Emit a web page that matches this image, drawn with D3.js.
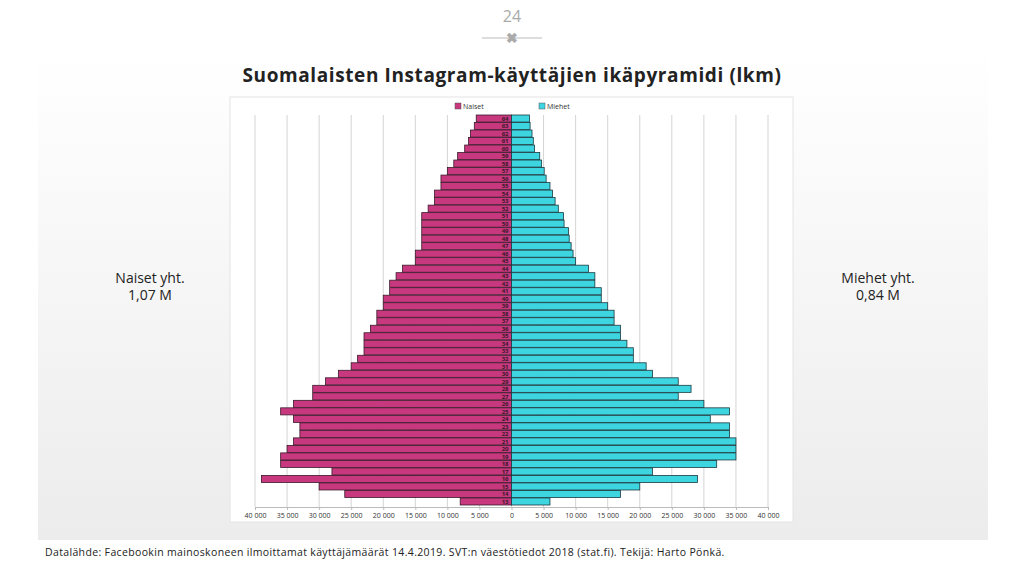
<!DOCTYPE html>
<html><head><meta charset="utf-8">
<script src="https://cdn.jsdelivr.net/npm/d3@7"></script>
<style>
body{margin:0;background:#fff;font-family:"Open Sans",sans-serif;}
</style></head>
<body><svg id="chart" width="1024" height="576"></svg>
<script>
var ages = d3.range(13, 65);
var naiset = [8000,26000,30000,39000,28000,36000,36000,35000,34000,33000,33000,34000,36000,34000,31000,31000,29000,27000,25000,24000,
  23000,23000,23000,22000,21000,21000,20000,20000,19000,19000,18000,17000,15000,15000,14000,14000,14000,14000,14000,13000,
  12000,12000,11000,11000,10000,9000,8400,7300,6700,6400,5800,5500];
var miehet = [6000,17000,20000,29000,22000,32000,35000,35000,35000,34000,34000,31000,34000,30000,26000,28000,26000,22000,21000,19000,
  19000,18000,17000,17000,16000,16000,15000,14000,14000,13000,13000,12000,10000,9600,9300,9000,8900,8200,8100,7300,
  6800,6400,6000,5400,5100,4700,4400,3600,3400,3200,2900,2800];
var xTicks = [-40000,-35000,-30000,-25000,-20000,-15000,-10000,-5000,0,5000,10000,15000,20000,25000,30000,35000,40000];

function init(){
  var svg = d3.select("#chart");

  // page panel
  var grad = svg.append("defs").append("linearGradient").attr("id","bg").attr("x1",0).attr("y1",0).attr("x2",0).attr("y2",1);
  grad.append("stop").attr("offset","0").attr("stop-color","#ffffff");
  grad.append("stop").attr("offset","1").attr("stop-color","#ececec");
  svg.append("rect").attr("x",38).attr("y",50).attr("width",950).attr("height",490).attr("fill","url(#bg)");

  svg.append("text").attr("x",512).attr("y",22).attr("text-anchor","middle")
    .attr("font-size",16).attr("fill","#aaa").text("24");
  svg.append("line").attr("x1",482).attr("x2",542).attr("y1",38).attr("y2",38).attr("stroke","#bbb");
  svg.append("text").attr("x",512).attr("y",43).attr("text-anchor","middle")
    .attr("font-size",14).attr("font-weight","bold").attr("fill","#aaa").text("✖");

  svg.append("text").attr("x",512).attr("y",82).attr("text-anchor","middle")
    .attr("font-size",19).attr("font-weight","bold").attr("fill","#222").attr("letter-spacing","0.6")
    .text("Suomalaisten Instagram-käyttäjien ikäpyramidi (lkm)");

  svg.append("text").attr("x",150).attr("y",283).attr("text-anchor","middle").attr("font-size",14).attr("fill","#222").text("Naiset yht.");
  svg.append("text").attr("x",150).attr("y",300).attr("text-anchor","middle").attr("font-size",14).attr("fill","#222").text("1,07 M");
  svg.append("text").attr("x",878).attr("y",283).attr("text-anchor","middle").attr("font-size",14).attr("fill","#222").text("Miehet yht.");
  svg.append("text").attr("x",878).attr("y",300).attr("text-anchor","middle").attr("font-size",14).attr("fill","#222").text("0,84 M");

  svg.append("text").attr("x",45).attr("y",556).attr("font-size",10.5).attr("letter-spacing","0.35").attr("fill","#222")
    .text("Datalähde: Facebookin mainoskoneen ilmoittamat käyttäjämäärät 14.4.2019. SVT:n väestötiedot 2018 (stat.fi).  Tekijä: Harto Pönkä.");

  // chart box
  svg.append("rect").attr("x",230).attr("y",97).attr("width",563).attr("height",425)
    .attr("fill","#fff").attr("stroke","#e4e4e4");

  var x = d3.scaleLinear().domain([-40000,40000]).range([255,768]);
  var y = d3.scaleBand().domain(ages.slice().reverse().map(String)).range([115,505]).paddingInner(0.06);

  svg.append("g").selectAll("line").data(xTicks).enter().append("line")
    .attr("x1",d=>x(d)).attr("x2",d=>x(d)).attr("y1",115).attr("y2",507)
    .attr("stroke","#d4d4d4").attr("stroke-width",1);

  var fmt = d3.formatLocale({thousands:" ",grouping:[3],decimal:",",currency:["",""]}).format(",");
  var ax = svg.append("g").attr("transform","translate(0,507)")
    .call(d3.axisBottom(x).tickValues(xTicks).tickSize(3).tickFormat(d=>fmt(Math.abs(d))));
  ax.select(".domain").attr("stroke","#bbb");
  ax.selectAll(".tick line").attr("stroke","#bbb");
  ax.selectAll("text").attr("font-size",7).attr("fill","#333").attr("font-family","Open Sans");

  svg.append("g").selectAll("rect").data(naiset).enter().append("rect")
    .attr("x",d=>x(-d)).attr("y",(d,i)=>y(String(ages[i])))
    .attr("width",d=>x(0)-x(-d)).attr("height",y.bandwidth())
    .attr("fill","#c8387f").attr("stroke","#3a1a2a").attr("stroke-width",0.8);
  svg.append("g").selectAll("rect").data(miehet).enter().append("rect")
    .attr("x",x(0)).attr("y",(d,i)=>y(String(ages[i])))
    .attr("width",d=>x(d)-x(0)).attr("height",y.bandwidth())
    .attr("fill","#3dd5e0").attr("stroke","#1a3a40").attr("stroke-width",0.8);

  svg.append("g").selectAll("text").data(ages).enter().append("text")
    .attr("x",x(0)-3).attr("y",d=>y(String(d))+y.bandwidth()/2+2.2)
    .attr("text-anchor","end").attr("font-size",6).attr("font-weight","bold").attr("fill","#3a1a2a")
    .text(d=>d);

  // legend
  var leg = svg.append("g").attr("font-size",7).attr("fill","#333");
  leg.append("rect").attr("x",455).attr("y",103).attr("width",6).attr("height",6).attr("fill","#c8387f").attr("stroke","#555").attr("stroke-width",0.5);
  leg.append("text").attr("x",463).attr("y",109).text("Naiset");
  leg.append("rect").attr("x",539).attr("y",103).attr("width",6).attr("height",6).attr("fill","#3dd5e0").attr("stroke","#555").attr("stroke-width",0.5);
  leg.append("text").attr("x",547).attr("y",109).text("Miehet");
}
window.onload = init;
</script></body></html>
